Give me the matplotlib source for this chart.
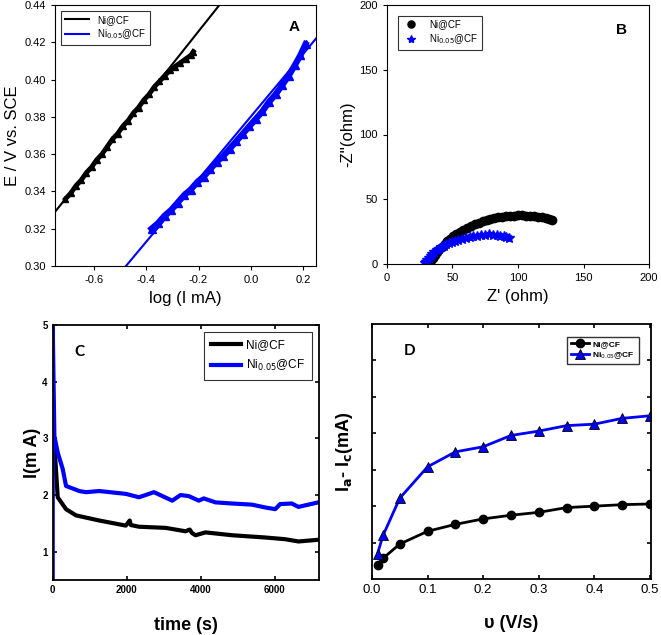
import matplotlib
matplotlib.use("Agg")
import matplotlib.pyplot as plt

# ---- A: Tafel plot ----
tafel_ni_x = [-0.71, -0.69, -0.67, -0.65, -0.63, -0.61, -0.59, -0.57, -0.55, -0.53,
              -0.51, -0.49, -0.47, -0.45, -0.43, -0.41, -0.39, -0.37, -0.35, -0.33,
              -0.31, -0.29, -0.27, -0.25, -0.23, -0.22]
tafel_ni_y = [0.336, 0.339, 0.343, 0.346, 0.350, 0.353, 0.357, 0.360, 0.364, 0.368,
              0.371, 0.375, 0.378, 0.382, 0.385, 0.389, 0.392, 0.396, 0.399, 0.402,
              0.405, 0.407, 0.409, 0.411, 0.413, 0.415]
tafel_nix_x = [-0.38, -0.355, -0.33, -0.305, -0.28, -0.255, -0.23, -0.205, -0.18, -0.155,
               -0.13, -0.105, -0.08, -0.055, -0.03, -0.005, 0.02, 0.045, 0.07, 0.095,
               0.12, 0.145, 0.17, 0.19, 0.21]
tafel_nix_y = [0.320, 0.323, 0.327, 0.330, 0.334, 0.338, 0.341, 0.345, 0.348, 0.352,
               0.356, 0.359, 0.363, 0.367, 0.371, 0.375, 0.379, 0.383, 0.388, 0.392,
               0.397, 0.402, 0.408, 0.413, 0.419]
fit_ni_x, fit_ni_y = [-0.75, -0.12], [0.329, 0.440]
fit_nix_x, fit_nix_y = [-0.478, 0.25], [0.300, 0.422]

# ---- B: Nyquist ----
eis_ni_re = [31.5, 32.5, 33.5, 35, 36.5, 38, 40, 42, 44, 46, 48, 50.5, 53, 55.5, 58, 61,
             64, 67, 70, 73, 76, 79, 82, 85, 88, 91, 94, 97, 100, 103, 106, 109, 112, 115,
             118, 121, 124, 126]
eis_ni_im = [0, 1.5, 3, 5, 7, 9, 11.5, 13.5, 15.5, 17.5, 19.3, 21.3, 23.2, 24.8, 26.3, 27.9,
             29.4, 30.7, 31.9, 33, 33.9, 34.7, 35.4, 36, 36.5, 36.9, 37.2, 37.4, 37.5, 37.5,
             37.4, 37.2, 36.9, 36.5, 36, 35.4, 34.6, 34]
eis_nix_re = [29, 29.8, 30.8, 32, 33.3, 34.7, 36.2, 37.8, 39.5, 41.3, 43.2, 45.2, 47.3,
              49.5, 52, 54.5, 57, 60, 63, 66, 69, 72, 75, 78, 81, 84, 86.5, 89, 91, 93]
eis_nix_im = [0.5, 1.8, 3.2, 4.7, 6.2, 7.7, 9.1, 10.5, 11.8, 13, 14.1, 15.1, 16.1, 17,
              17.9, 18.7, 19.4, 20.2, 20.9, 21.5, 22, 22.4, 22.7, 22.8, 22.7, 22.4, 22,
              21.4, 20.7, 19.8]

# ---- C: chronoamperometry ----
ca_ni_t = [10, 45, 135, 360, 630, 1256, 1973, 2080, 2110, 2332, 3050, 3587, 3700, 3760,
           3857, 4126, 4843, 5740, 6278, 6637, 7175]
ca_ni_i = [3.2, 2.9, 1.96, 1.75, 1.64, 1.55, 1.46, 1.55, 1.47, 1.44, 1.42, 1.36, 1.39, 1.33,
           1.29, 1.34, 1.29, 1.25, 1.22, 1.18, 1.21]
ca_nix_t = [0, 0, 45, 135, 270, 360, 717, 900, 1256, 1973, 2332, 2735, 3229, 3453, 3677,
            3946, 4081, 4395, 4843, 5381, 5740, 6009, 6143, 6457, 6637, 7175]
ca_nix_i = [0.5, 5.0, 3.04, 2.75, 2.46, 2.16, 2.07, 2.05, 2.07, 2.02, 1.96, 2.05, 1.90, 2.00,
            1.98, 1.90, 1.94, 1.87, 1.85, 1.83, 1.78, 1.75, 1.84, 1.85, 1.79, 1.87]

# ---- D: scan rate ----
scan_rate = [0.01, 0.02, 0.05, 0.10, 0.15, 0.20, 0.25, 0.30, 0.35, 0.40, 0.45, 0.50]
dI_ni = [0.38, 0.57, 0.96, 1.31, 1.50, 1.65, 1.75, 1.83, 1.96, 2.00, 2.04, 2.06]
dI_nix = [0.70, 1.20, 2.22, 3.08, 3.49, 3.63, 3.94, 4.06, 4.21, 4.25, 4.41, 4.48]

BLUE = "#0000ff"
arial = ["Liberation Sans", "DejaVu Sans"]
narrow = ["Liberation Sans Narrow", "Liberation Sans", "DejaVu Sans"]
letter_font = ["Lato", "Liberation Sans", "DejaVu Sans"]
plt.rcParams["font.family"] = arial

fig = plt.figure(figsize=(6.61, 6.35), dpi=100)
W, H = 661, 635


def add_ax(l, t, r, b):
    return fig.add_axes([l / W, 1 - b / H, (r - l) / W, (b - t) / H])


# A
axA = add_ax(55, 5, 316, 266)
axA.plot(fit_ni_x, fit_ni_y, color="black", lw=1.5, label="Ni@CF")
axA.plot(fit_nix_x, fit_nix_y, color=BLUE, lw=1.5, label="Ni$_{0.05}$@CF")
axA.plot(tafel_ni_x, tafel_ni_y, color="black", lw=3.5, marker="^", ms=5, zorder=3)
axA.plot(tafel_nix_x, tafel_nix_y, color=BLUE, lw=4.5, marker="^", ms=6, zorder=3)
axA.set_xlim(-0.75, 0.25)
axA.set_ylim(0.30, 0.44)
axA.set_xticks([-0.6, -0.4, -0.2, 0.0, 0.2])
axA.set_yticks([0.30, 0.32, 0.34, 0.36, 0.38, 0.40, 0.42, 0.44])
axA.xaxis.set_major_formatter(matplotlib.ticker.FormatStrFormatter("%.1f"))
axA.yaxis.set_major_formatter(matplotlib.ticker.FormatStrFormatter("%.2f"))
axA.tick_params(direction="out", length=3, labelsize=8)
axA.set_xlabel("log (I mA)", fontsize=12, labelpad=4)
axA.set_ylabel("E / V vs. SCE", fontsize=12, labelpad=3)
leg = axA.legend(loc="upper left", fontsize=7, frameon=True, fancybox=False,
                 edgecolor="black", handlelength=2.5, borderaxespad=0.6, labelspacing=0.3)
leg.get_frame().set_linewidth(0.8)
axA.text(0.915, 0.915, "A", transform=axA.transAxes, fontsize=11, fontweight="bold",
         ha="center", va="center")

# B
axB = add_ax(387, 5, 649, 264)
axB.plot(eis_ni_re, eis_ni_im, color="black", ls="none", marker="o", ms=6,
         label="Ni@CF")
axB.plot(eis_nix_re, eis_nix_im, color=BLUE, ls="none", marker="*", ms=7,
         label="Ni$_{0.05}$@CF")
axB.set_xlim(0, 200)
axB.set_ylim(0, 200)
axB.set_xticks([0, 50, 100, 150, 200])
axB.set_yticks([0, 50, 100, 150, 200])
axB.tick_params(direction="out", length=3, labelsize=8)
axB.set_xlabel("Z' (ohm)", fontsize=12, labelpad=4)
axB.set_ylabel("-Z''(ohm)", fontsize=12, labelpad=3)
leg = axB.legend(loc="upper left", fontsize=7, frameon=True, fancybox=False,
                 edgecolor="black", borderaxespad=1.1, handletextpad=0.8, labelspacing=0.3,
                 markerscale=0.85)
leg.get_frame().set_linewidth(0.8)
axB.text(0.895, 0.905, "B", transform=axB.transAxes, fontsize=11, fontweight="bold",
         ha="center", va="center")

# C
axC = add_ax(52.7, 325, 319.3, 580)
axC.plot(ca_ni_t, ca_ni_i, color="black", lw=3, label="Ni@CF")
axC.plot(ca_nix_t, ca_nix_i, color=BLUE, lw=3, label="Ni$_{0.05}$@CF")
axC.set_xlim(0, 7200)
axC.set_ylim(0.5, 5)
axC.set_xticks([0, 2000, 4000, 6000])
axC.set_yticks([1, 2, 3, 4, 5])
axC.tick_params(direction="in", length=3, width=1.2, labelsize=7, right=True, top=True)
for lab in axC.get_xticklabels() + axC.get_yticklabels():
    lab.set_family(narrow)
    lab.set_fontweight("bold")
axC.set_xlabel("time (s)", fontsize=13, fontweight="bold", family=narrow, labelpad=16)
axC.set_ylabel("I(m A)", fontsize=13, fontweight="bold", family=narrow, labelpad=1)
leg = axC.legend(loc="upper right", prop={"family": narrow, "size": 8.5}, frameon=True,
                 fancybox=False, edgecolor="black", handlelength=2.6, borderaxespad=0.6,
                 labelspacing=0.6, handletextpad=0.4, borderpad=0.6)
leg.get_frame().set_linewidth(0.8)
axC.text(0.1, 0.895, "C", transform=axC.transAxes, fontsize=11, fontweight="bold",
         family=letter_font, ha="center", va="center")
for s in axC.spines.values():
    s.set_linewidth(1.3)

# D
axD = add_ax(372, 324, 651, 579)
axD.plot(scan_rate, dI_ni, color="black", lw=2, marker="o", ms=6, label="Ni@CF")
axD.plot(scan_rate, dI_nix, color=BLUE, lw=2, marker="^", ms=7, mfc=BLUE, mec="black",
         mew=0.6, label="Ni$_{0.05}$@CF")
axD.set_xlim(0, 0.502)
axD.set_ylim(0, 7)
axD.set_xticks([0.0, 0.1, 0.2, 0.3, 0.4, 0.5])
axD.set_yticks([1, 2, 3, 4, 5, 6])
axD.xaxis.set_major_formatter(matplotlib.ticker.FormatStrFormatter("%.1f"))
axD.tick_params(direction="in", length=3, width=1.2, labelsize=9.5, right=True, top=True,
                labelleft=False)
axD.set_xlabel("\u03c5 (V/s)", fontsize=13, fontweight="bold", labelpad=14)
axD.set_ylabel("I$_\\mathbf{a}$- I$_\\mathbf{c}$(mA)", fontsize=13, fontweight="bold",
               labelpad=12)
leg = axD.legend(loc="upper right", prop={"weight": "bold", "size": 6}, frameon=True,
                 fancybox=False, edgecolor="black", borderaxespad=1.5, handlelength=2.2,
                 labelspacing=0.3, handletextpad=0.4)
leg.get_frame().set_linewidth(1.0)
axD.text(0.135, 0.895, "D", transform=axD.transAxes, fontsize=11, fontweight="bold",
         family=letter_font, ha="center", va="center")
for s in axD.spines.values():
    s.set_linewidth(1.3)

fig.savefig("out.png", dpi=100)
